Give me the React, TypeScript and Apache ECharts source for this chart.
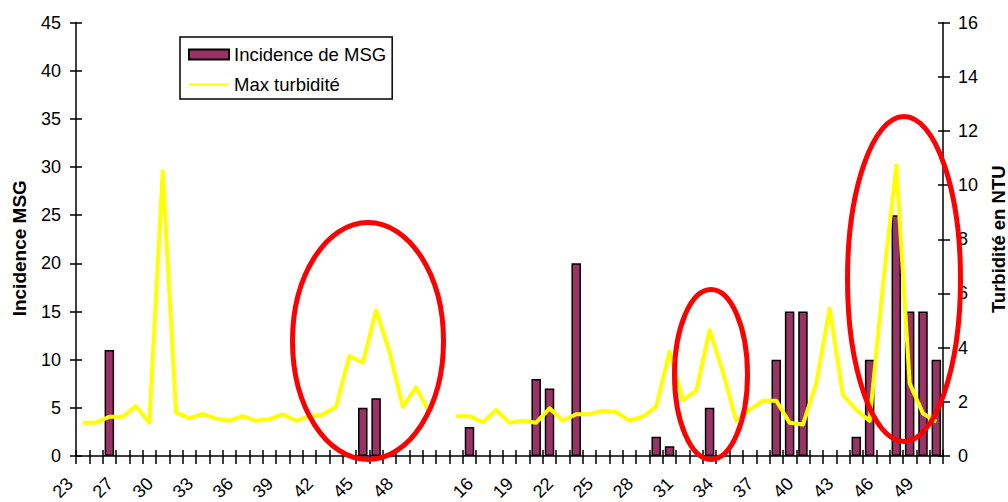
import React, { useEffect, useRef } from 'react';
import * as echarts from 'echarts';

// Week numbers (two seasons separated by an empty category)
const weeks: string[] = [
  '23', '25', '26', '27', '28', '29', '30', '31', '32', '33', '34', '35', '36', '37', '38',
  '39', '40', '41', '42', '43', '44', '45', '46', '47', '48', '49', '50',
  '',
  '14', '15', '16', '17', '18', '19', '20', '21', '22', '23', '24', '25', '26', '27', '28',
  '29', '30', '31', '32', '33', '34', '35', '36', '37', '38', '39', '40', '41', '42', '43',
  '44', '45', '46', '47', '48', '49', '50',
];

// Incidence MSG (left axis)
const incidence: (number | null)[] = [
  null, null, 11, null, null, null, null, null, null, null, null, null, null, null, null,
  null, null, null, null, null, null, 5, 6, null, null, null, null,
  null,
  null, 3, null, null, null, null, 8, 7, null, 20, null, null, null, null, null, 2, 1,
  null, null, 5, null, null, null, null, 10, 15, 15, null, null, null, 2, 10, null, 25,
  15, 15, 10,
];

// Max turbidity in NTU (right axis)
const turbidity: (number | null)[] = [
  1.23, 1.23, 1.45, 1.45, 1.84, 1.23, 10.5, 1.61, 1.39, 1.55, 1.38, 1.3, 1.47, 1.3, 1.36,
  1.54, 1.3, 1.47, 1.52, 1.82, 3.69, 3.44, 5.38, 3.85, 1.82, 2.53, 1.6,
  null,
  1.47, 1.47, 1.24, 1.7, 1.23, 1.3, 1.23, 1.76, 1.3, 1.54, 1.54, 1.67, 1.62, 1.3, 1.45,
  1.82, 3.85, 2.06, 2.4, 4.65, 3.1, 1.3, 1.7, 2.04, 2.04, 1.23, 1.16, 2.68, 5.44, 2.25,
  1.7, 1.3, 6.3, 10.73, 2.68, 1.57, 1.27,
];

const FONT = '"Liberation Sans", Arial, sans-serif';

function tick(inside: boolean, length: number, interval?: number) {
  const t: any = { show: true, inside, length, lineStyle: { color: '#000000', width: 1.5, opacity: 1 } };
  if (interval !== undefined) t.interval = interval;
  return t;
}

function line(show: boolean) {
  return { show, onZero: false, lineStyle: { color: '#000000', width: 1.5, opacity: 1 } };
}

export default function App() {
  const ref = useRef<HTMLDivElement>(null);

  useEffect(() => {
    if (!ref.current) return;
    const chart = echarts.init(ref.current, undefined, { renderer: 'svg' });
    const labelStyle = { color: '#000', fontFamily: FONT, fontSize: 18 };

    chart.setOption({
      animation: false,
      backgroundColor: '#fff',
      grid: { left: 76, right: 65, top: 22.5, bottom: 46, containLabel: false, outerBoundsMode: 'none' },
      legend: {
        orient: 'vertical',
        left: 180,
        top: 37,
        padding: [8, 6, 5, 8],
        itemGap: 11,
        itemWidth: 40,
        itemHeight: 10,
        borderColor: '#000',
        borderWidth: 1.5,
        backgroundColor: '#fff',
        textStyle: { color: '#000', fontFamily: FONT, fontSize: 18.5 },
        data: [
          { name: 'Incidence de MSG', icon: 'rect' },
          { name: 'Max turbidité', itemStyle: { opacity: 0 } },
        ],
      },
      xAxis: [
        {
          type: 'category',
          data: weeks,
          position: 'bottom',
          boundaryGap: true,
          axisLine: line(true),
          axisTick: tick(false, 8, 0),
          axisLabel: {
            ...labelStyle,
            interval: 2,
            rotate: 45,
            margin: 12,
            padding: [0, 18, 0, 0],
          },
          splitLine: { show: false },
        },
        {
          type: 'category',
          data: weeks,
          position: 'bottom',
          boundaryGap: true,
          axisLine: line(false),
          axisTick: tick(true, 6, 0),
          axisLabel: { show: false },
          splitLine: { show: false },
        },
      ],
      yAxis: [
        {
          type: 'value',
          position: 'left',
          min: 0,
          max: 45,
          interval: 5,
          axisLine: line(true),
          axisTick: tick(false, 6),
          axisLabel: { ...labelStyle, margin: 15 },
          splitLine: { show: false },
          name: 'Incidence MSG',
          nameLocation: 'middle',
          nameRotate: 90,
          nameGap: 47,
          nameTextStyle: { color: '#000', fontFamily: FONT, fontSize: 19, fontWeight: 'bold', padding: [0, 18, 0, 0] },
        },
        {
          type: 'value',
          position: 'right',
          min: 0,
          max: 16,
          interval: 2,
          axisLine: line(true),
          axisTick: tick(false, 7),
          axisLabel: { ...labelStyle, margin: 15 },
          splitLine: { show: false },
          name: 'Turbidité en NTU',
          nameLocation: 'middle',
          nameRotate: 90,
          nameGap: 44,
          nameTextStyle: { color: '#000', fontFamily: FONT, fontSize: 18.5, fontWeight: 'bold' },
        },
        {
          type: 'value',
          position: 'left',
          min: 0,
          max: 45,
          interval: 5,
          axisLine: line(false),
          axisTick: tick(true, 6),
          axisLabel: { show: false },
          splitLine: { show: false },
        },
        {
          type: 'value',
          position: 'right',
          min: 0,
          max: 16,
          interval: 2,
          axisLine: line(false),
          axisTick: tick(true, 5),
          axisLabel: { show: false },
          splitLine: { show: false },
        },
      ],
      series: [
        {
          name: 'Incidence de MSG',
          type: 'bar',
          xAxisIndex: 0,
          yAxisIndex: 0,
          data: incidence,
          barWidth: 9.5,
          itemStyle: { color: '#993366', borderColor: '#000', borderWidth: 1.5 },
        },
        {
          name: 'Max turbidité',
          type: 'line',
          xAxisIndex: 0,
          yAxisIndex: 1,
          data: turbidity,
          symbol: 'none',
          connectNulls: false,
          lineStyle: { color: '#ffff00', width: 4, join: 'round' },
          itemStyle: { color: '#ffff00' },
        },
      ],
      graphic: [
        { type: 'ellipse', z: 100, shape: { cx: 368, cy: 341, rx: 75.5, ry: 118.5 }, style: { fill: 'none', stroke: '#ff0000', lineWidth: 5 } },
        { type: 'ellipse', z: 100, shape: { cx: 711, cy: 374.5, rx: 36.5, ry: 85 }, style: { fill: 'none', stroke: '#ff0000', lineWidth: 5 } },
        { type: 'ellipse', z: 100, shape: { cx: 904, cy: 279, rx: 56.5, ry: 162.5 }, style: { fill: 'none', stroke: '#ff0000', lineWidth: 5 } },
      ],
    });

    return () => chart.dispose();
  }, []);

  return (
    <div
      ref={ref}
      style={{ position: 'fixed', left: 0, top: 0, width: 1008, height: 502, background: '#fff' }}
    />
  );
}
